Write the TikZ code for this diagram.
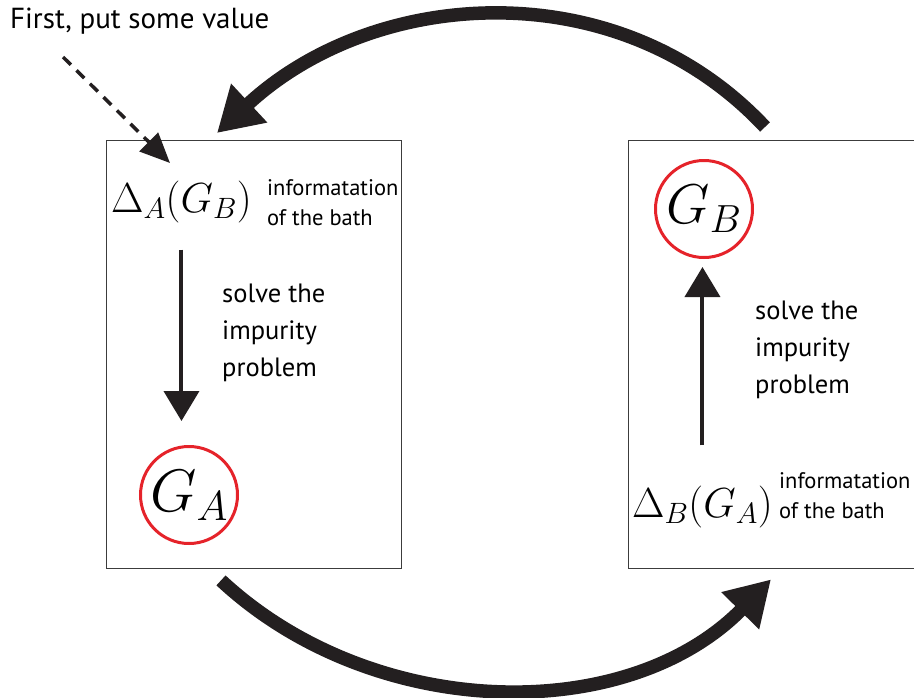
\RequirePackage{fix-cm}
\documentclass[tikz,border=0pt]{standalone}
\usepackage{fontspec}
\setmainfont{PT Sans}
\usepackage{amsmath}
\usepackage{xcolor}
\usepackage{tikz}
\usetikzlibrary{arrows.meta,positioning,calc}

\definecolor{inkblack}{RGB}{35,31,32}
\definecolor{ringred}{RGB}{229,35,42}
\definecolor{framegray}{RGB}{60,60,60}

\begin{document}
\begin{tikzpicture}[
  x=1pt, y=-1pt,
  panel/.style={draw=framegray, line width=1.4pt, minimum width=295pt, minimum height=428pt, anchor=north west, inner sep=0pt},
  mathlbl/.style={font=\fontsize{42}{44}\selectfont, inner sep=0pt},
  ring/.style={circle, draw=ringred, line width=3pt, minimum size=97pt, inner sep=0pt},
  info/.style={font=\fontsize{22.5}{30}\selectfont, align=left, inner sep=0pt},
  note/.style={font=\fontsize{26.5}{37}\selectfont, align=left, inner sep=0pt},
  solve/.style={-{Triangle[length=30pt, width=35pt]}, line width=4pt, draw=inkblack},
  loopback/.style={-{Triangle[length=44pt, width=50pt]}, line width=13.5pt, draw=inkblack},
  hint/.style={-{Triangle[length=30pt, width=26pt]}, line width=3.5pt, dash pattern=on 11pt off 8pt, draw=inkblack},
]
  \useasboundingbox (0,0) rectangle (914,697);
  \clip (0,0) rectangle (914,697);

  % Panels
  \node[panel] (boxA) at (106,140) {};
  \node[panel] (boxB) at (628,140) {};

  % Left panel: A side
  \node[mathlbl, anchor=base west] (deltaA) at (111,212) {$\Delta_A(G_B)$};
  \node[info, anchor=base west] (infoA) at (267,225) {informatation\\of the bath};
  \node[ring, font=\fontsize{60}{60}\selectfont] (gA) at (189,495) {$G_A$};
  \node[note, anchor=base west] (solveA) at (222,376) {solve the\\impurity\\problem};

  % Right panel: B side
  \node[ring, font=\fontsize{56}{56}\selectfont] (gB) at (704,209) {$G_B$};
  \node[mathlbl, anchor=base west] (deltaB) at (632,517) {$\Delta_B(G_A)$};
  \node[info, anchor=base west] (infoB) at (779,518) {informatation\\of the bath};
  \node[note, anchor=base west] (solveB) at (755,393) {solve the\\impurity\\problem};

  % Starting hint
  \node[font=\fontsize{29}{32}\selectfont, anchor=base west, inner sep=0pt] (first) at (10,28) {First, put some value};
  \coordinate (hintstart) at (63,57);
  \coordinate (hinttip) at (170,163);
  \draw[hint] (hintstart) -- (hinttip);

  % Impurity solver arrows
  \draw[solve] ($(deltaA.south)+(0,27)$) -- ($(gA.north -| deltaA.south)+(0,-24)$);
  \draw[solve] ($(deltaB.north)+(0,-40)$) -- ($(gB.south -| deltaB.north)+(0,8)$);

  % Self-consistency loop
  \draw[loopback] ($(boxB.north west)+(137,-13)$) .. controls (618,-30) and (374,-13) .. ($(boxA.north west)+(111,-7)$);
  \draw[loopback] ($(boxA.south west)+(115,11)$) .. controls (372,721) and (626,727) .. ($(boxB.south west)+(143,10)$);

\end{tikzpicture}
\end{document}
